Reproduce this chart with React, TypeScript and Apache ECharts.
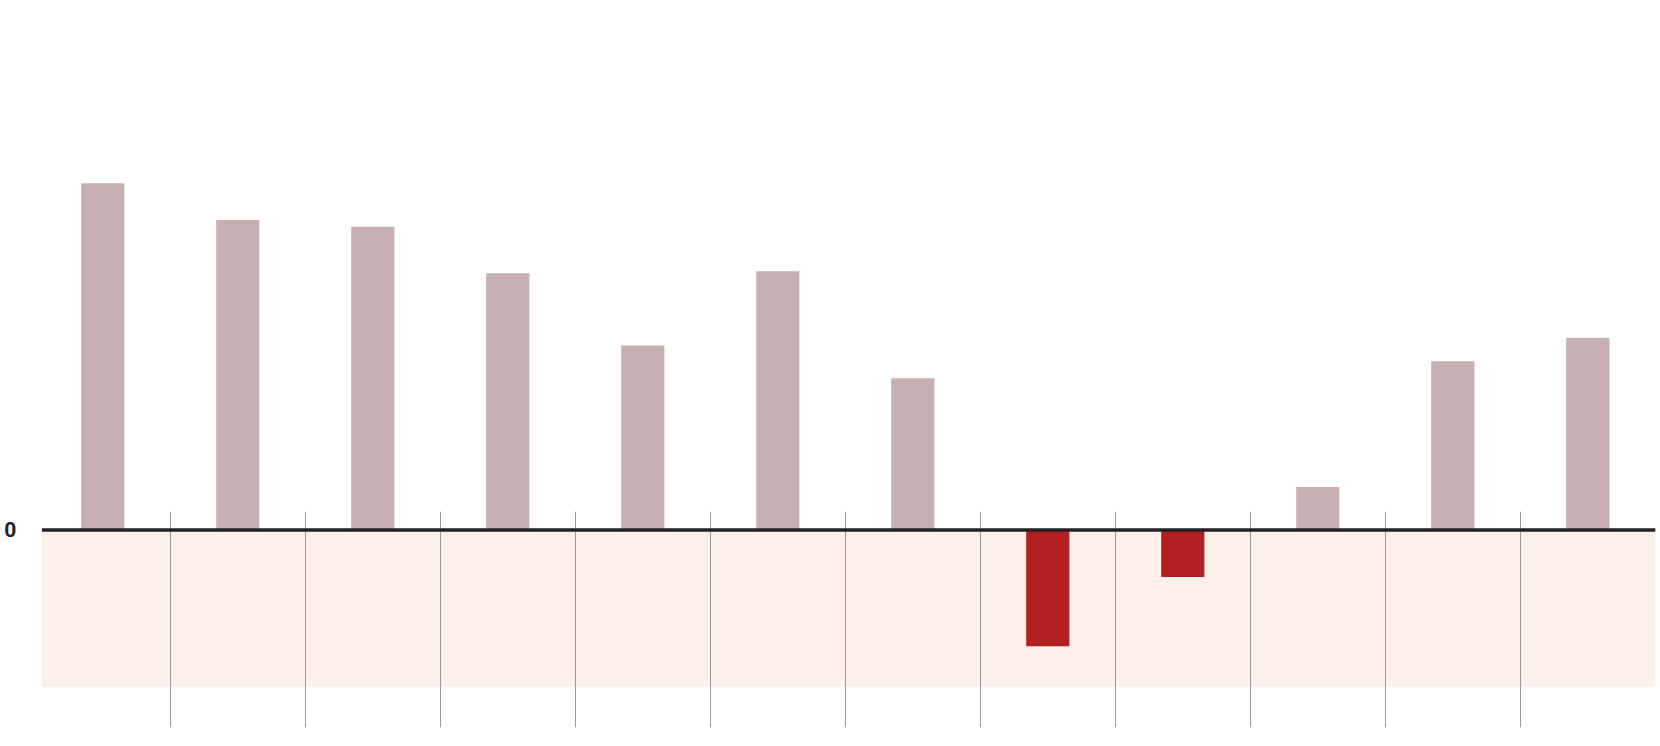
import React, { useEffect, useRef } from "react";
import * as echarts from "echarts";

const categories = ["1", "2", "3", "4", "5", "6", "7", "8", "9", "10", "11", "12"];
const values = [35.0, 31.3, 30.6, 25.9, 18.6, 26.1, 15.3, -11.8, -4.8, 4.3, 17.0, 19.4];
const bandBottom = -15.9;
const dividerPositions = [1, 2, 3, 4, 5, 6, 7, 8, 9, 10, 11];

const POS_COLOR = "#c5afb0";
const NEG_COLOR = "#b21f21";

export default function App() {
  const ref = useRef<HTMLDivElement>(null);
  useEffect(() => {
    if (!ref.current) return;
    const chart = echarts.init(ref.current, undefined, { renderer: "svg" });
    chart.setOption({
      animation: false,
      backgroundColor: "#ffffff",
      grid: {
        left: 35.3,
        right: 4.7,
        top: 35,
        bottom: 18.7,
        containLabel: false,
        outerBoundsMode: "none",
      },
      xAxis: [
        {
          type: "category",
          data: categories,
          boundaryGap: true,
          axisLine: { show: false },
          axisTick: { show: false },
          axisLabel: { show: false },
          splitLine: { show: false },
        },
        {
          type: "value",
          min: 0,
          max: 12,
          position: "bottom",
          z: 4,
          axisLine: { show: false, onZero: false },
          axisLabel: { show: false },
          splitLine: { show: false },
          axisTick: {
            show: true,
            inside: true,
            length: 215.6,
            customValues: dividerPositions,
            lineStyle: { color: "#9a9a9a", width: 1 },
          },
        },
      ],
      yAxis: {
        type: "value",
        min: -20,
        max: 50,
        interval: 10,
        axisLine: { show: false },
        axisTick: { show: false },
        splitLine: { show: false },
        axisLabel: {
          show: true,
          margin: 19,
          color: "#222222",
          fontFamily: "Roboto",
          fontWeight: "bold",
          fontSize: 21,
          formatter: (v: number) => (v === 0 ? "0" : ""),
        },
      },
      series: [
        {
          type: "bar",
          xAxisIndex: 0,
          data: values,
          barWidth: "32%",
          z: 2,
          itemStyle: {
            color: (p: any) => (p.value < 0 ? NEG_COLOR : POS_COLOR),
          },
          silent: true,
        },
        {
          type: "line",
          xAxisIndex: 1,
          data: [],
          silent: true,
          markArea: {
            silent: true,
            z: 1,
            itemStyle: { color: "#fdf0eb" },
            label: { show: false },
            data: [[{ coord: [0.05, 0] }, { coord: [12, bandBottom] }]],
          },
          markLine: {
            silent: true,
            z: 5,
            symbol: ["none", "none"],
            label: { show: false },
            lineStyle: { color: "#222222", width: 3.5, type: "solid" },
            data: [[{ coord: [0.05, 0] }, { coord: [12, 0] }]],
          },
        },
      ],
    });
    return () => chart.dispose();
  }, []);
  return (
    <div
      ref={ref}
      style={{ position: "fixed", left: 0, top: 0, width: 1660, height: 746 }}
    />
  );
}
